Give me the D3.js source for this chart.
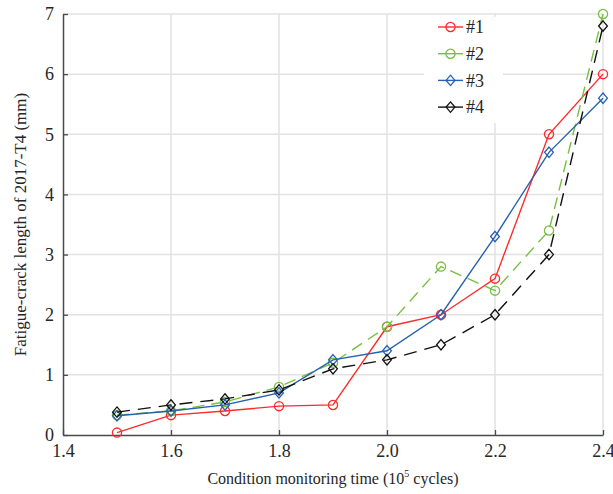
<!DOCTYPE html>
<html>
<head>
<meta charset="utf-8">
<script src="https://cdn.jsdelivr.net/npm/d3@7"></script>
<style>
  html, body { margin: 0; padding: 0; background: #fff; }
  svg { display: block; }
  text { font-family: "Liberation Serif", "Times New Roman", serif; fill: #262626; }
</style>
</head>
<body>
<div id="chart"></div>
<script>
// Monitoring times (10^5 cycles) and measured crack lengths (mm)
const cycles = [1.5, 1.6, 1.7, 1.8, 1.9, 2.0, 2.1, 2.2, 2.3, 2.4];
const crack1 = [0.04, 0.33, 0.40, 0.48, 0.50, 1.80, 2.00, 2.60, 5.00, 6.00];
const crack2 = [0.33, 0.40, 0.55, 0.80, 1.20, 1.80, 2.80, 2.40, 3.40, 7.00];
const crack3 = [0.32, 0.40, 0.50, 0.70, 1.25, 1.40, 2.00, 3.30, 4.70, 5.60];
const crack4 = [0.38, 0.50, 0.60, 0.75, 1.10, 1.25, 1.50, 2.00, 3.00, 6.80];
const seriesNames = ["#1", "#2", "#3", "#4"];
const xTicks = [1.4, 1.6, 1.8, 2.0, 2.2, 2.4];
const yTicks = [0, 1, 2, 3, 4, 5, 6, 7];

const W = 613, H = 494;
const margin = { left: 63, right: 10, top: 14, bottom: 59 };
const serif = '"Liberation Serif", "Times New Roman", serif';

const styles = [
  { color: "#ff2b2b", dash: null, marker: "circle" },
  { color: "#77c043", dash: "12,7", marker: "circle" },
  { color: "#2761b0", dash: null, marker: "diamond" },
  { color: "#111111", dash: "13,8", marker: "diamond" }
];
const data = [crack1, crack2, crack3, crack4];

const svg = d3.select("#chart").append("svg")
  .attr("width", W).attr("height", H)
  .attr("font-family", serif);

const x = d3.scaleLinear().domain([1.4, 2.4]).range([margin.left, W - margin.right]);
const y = d3.scaleLinear().domain([0, 7]).range([H - margin.bottom, margin.top]);

// grid
const grid = svg.append("g").attr("stroke", "#e2e2e2").attr("stroke-width", 1.5);
grid.selectAll(".gx").data(xTicks.slice(1)).enter().append("line")
  .attr("x1", d => x(d)).attr("x2", d => x(d))
  .attr("y1", y(0)).attr("y2", y(7));
grid.selectAll(".gy").data(yTicks.slice(1)).enter().append("line")
  .attr("x1", x(1.4)).attr("x2", x(2.4))
  .attr("y1", d => y(d)).attr("y2", d => y(d));

// axes
const xAxis = d3.axisBottom(x).tickValues(xTicks).tickFormat(d3.format(".1f"))
  .tickSizeInner(-5).tickSizeOuter(0).tickPadding(12);
const yAxis = d3.axisLeft(y).tickValues(yTicks).tickFormat(d3.format("d"))
  .tickSizeInner(-5).tickSizeOuter(0).tickPadding(9);

const gx = svg.append("g").attr("transform", `translate(0,${y(0)})`).call(xAxis);
const gy = svg.append("g").attr("transform", `translate(${x(1.4)},0)`).call(yAxis);
[gx, gy].forEach(g => {
  g.attr("font-family", serif).attr("font-size", 18);
  g.select(".domain").attr("stroke", "#4a4a4a").attr("stroke-width", 1.5);
  g.selectAll(".tick line").attr("stroke", "#4a4a4a").attr("stroke-width", 1.3);
  g.selectAll(".tick text").style("font-family", serif)
    .style("font-size", "18px").attr("fill", "#262626");
});
gx.selectAll(".tick text").attr("dy", "0.55em");
gy.selectAll(".tick text").attr("dy", "0.32em");

// series
const line = d3.line().x((d, i) => x(cycles[i])).y(d => y(d));
const diamond = (w, h) => `M0,${-h}L${w},0L0,${h}L${-w},0Z`;

function drawMarker(g, type, color) {
  if (type === "circle") {
    g.append("circle").attr("r", 4.6).attr("fill", "none")
      .attr("stroke", color).attr("stroke-width", 1.3);
  } else {
    g.append("path").attr("d", diamond(4.4, 5.2)).attr("fill", "none")
      .attr("stroke", color).attr("stroke-width", 1.3);
  }
}

data.forEach((vals, k) => {
  const st = styles[k];
  const g = svg.append("g");
  g.append("path").datum(vals).attr("d", line)
    .attr("fill", "none").attr("stroke", st.color).attr("stroke-width", 1.4)
    .attr("stroke-dasharray", st.dash);
  vals.forEach((v, i) => {
    const m = g.append("g").attr("transform", `translate(${x(cycles[i])},${y(v)})`);
    drawMarker(m, st.marker, st.color);
  });
});

// legend
const legend = svg.append("g");
legend.append("rect").attr("x", 424).attr("y", 17).attr("width", 79).attr("height", 106)
  .attr("fill", "#fff");
seriesNames.forEach((name, k) => {
  const st = styles[k];
  const yy = 27 + k * 26.7;
  legend.append("line").attr("x1", 438).attr("x2", 463).attr("y1", yy).attr("y2", yy)
    .attr("stroke", st.color).attr("stroke-width", 1.4);
  const m = legend.append("g").attr("transform", `translate(450.5,${yy})`);
  drawMarker(m, st.marker, st.color);
  legend.append("text").attr("x", 466).attr("y", yy).attr("dy", "0.35em")
    .style("font-size", "18px").text(name);
});

// axis titles
svg.append("text").attr("x", (x(1.4) + x(2.4)) / 2).attr("y", 484)
  .attr("text-anchor", "middle").style("font-size", "16px")
  .html('Condition monitoring time (10<tspan dy="-7" style="font-size:10px">5</tspan><tspan dy="7"> cycles)</tspan>');

svg.append("text")
  .attr("transform", `translate(26,${(y(0) + y(7)) / 2}) rotate(-90)`)
  .attr("text-anchor", "middle").style("font-size", "17px")
  .text("Fatigue-crack length of 2017-T4 (mm)");
</script>
</body>
</html>
